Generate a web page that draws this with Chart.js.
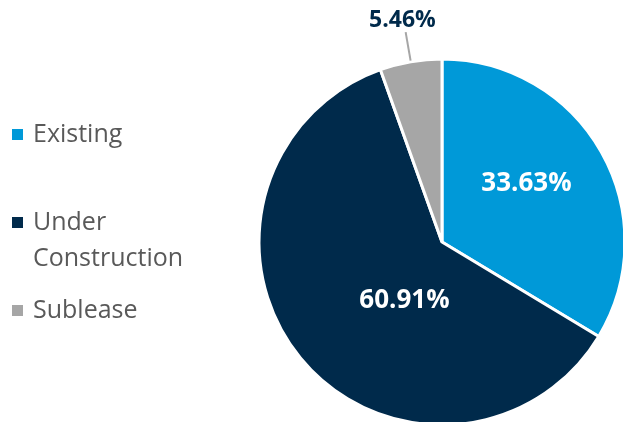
<!DOCTYPE html>
<html><head><meta charset="utf-8">
<script src="https://cdn.jsdelivr.net/npm/chart.js@4"></script>
<style>
html,body{margin:0;padding:0;width:623px;height:422px;overflow:hidden;background:#fff;font-family:"Open Sans",sans-serif;}
#wrap{position:absolute;left:0;top:0;width:884px;height:484px;}
#legend{position:absolute;left:0;top:0;width:220px;height:422px;}
.li{position:absolute;left:10px;width:210px;color:#595959;font-size:25px;line-height:36px;}
.li .sw{position:absolute;left:2px;top:15px;width:11px;height:11px;}
.li .tx{position:absolute;left:23px;top:0;width:170px;}
</style></head>
<body>
<div id="wrap"><canvas id="c"></canvas></div>
<div id="legend"></div>
<script>
const categories = ["Existing", "Under Construction", "Sublease"];
const values = [33.63, 60.91, 5.46];
const labels = ["33.63%", "60.91%", "5.46%"];
const colors = ["#0099D8", "#002A4B", "#A6A6A6"];
// layout (style) settings, not data
const legendTops = [114, 202, 290];
const labelPlace = [
  {r: 0.56, da: -5, inside: true},
  {r: 0.38, da: -18, inside: true},
  {inside: false}
];

const lg = document.getElementById('legend');
categories.forEach((c, i) => {
  const d = document.createElement('div');
  d.className = 'li';
  d.style.top = legendTops[i] + 'px';
  d.innerHTML = '<span class="sw" style="background:' + colors[i] + '"></span><span class="tx">' + c + '</span>';
  lg.appendChild(d);
});

const labelPlugin = {
  id: 'pieLabels',
  afterDatasetsDraw(chart) {
    const ctx = chart.ctx;
    const meta = chart.getDatasetMeta(0);
    meta.data.forEach((arc, i) => {
      const p = arc.getProps(['x', 'y', 'startAngle', 'endAngle', 'outerRadius'], true);
      const mid = (p.startAngle + p.endAngle) / 2;
      const pl = labelPlace[i];
      ctx.save();
      ctx.textAlign = 'center';
      ctx.textBaseline = 'middle';
      if (pl.inside) {
        const a = mid + pl.da * Math.PI / 180;
        const r = p.outerRadius * pl.r;
        ctx.fillStyle = '#ffffff';
        ctx.font = 'bold 26px "Open Sans", sans-serif';
        ctx.fillText(labels[i], p.x + r * Math.cos(a), p.y + r * Math.sin(a));
      } else {
        const R = p.outerRadius;
        ctx.strokeStyle = '#A6A6A6';
        ctx.lineWidth = 2;
        ctx.beginPath();
        ctx.moveTo(p.x + (R + 1) * Math.cos(mid), p.y + (R + 1) * Math.sin(mid));
        ctx.lineTo(p.x + (R + 30) * Math.cos(mid), p.y + (R + 30) * Math.sin(mid));
        ctx.stroke();
        ctx.fillStyle = '#002A4B';
        ctx.font = 'bold 23px "Open Sans", sans-serif';
        const rt = R + 43;
        ctx.fillText(labels[i], p.x + rt * Math.cos(mid) - 1, p.y + rt * Math.sin(mid) + 1);
      }
      ctx.restore();
    });
  }
};

new Chart(document.getElementById('c'), {
  type: 'pie',
  data: {
    labels: categories,
    datasets: [{
      data: values,
      backgroundColor: colors,
      borderColor: '#ffffff',
      borderWidth: 3
    }]
  },
  options: {
    responsive: true,
    maintainAspectRatio: false,
    animation: false,
    layout: {padding: {left: 257.5, right: 257.5, top: 57.5, bottom: 57.5}},
    plugins: {legend: {display: false}, tooltip: {enabled: false}}
  },
  plugins: [labelPlugin]
});
</script>
</body></html>
